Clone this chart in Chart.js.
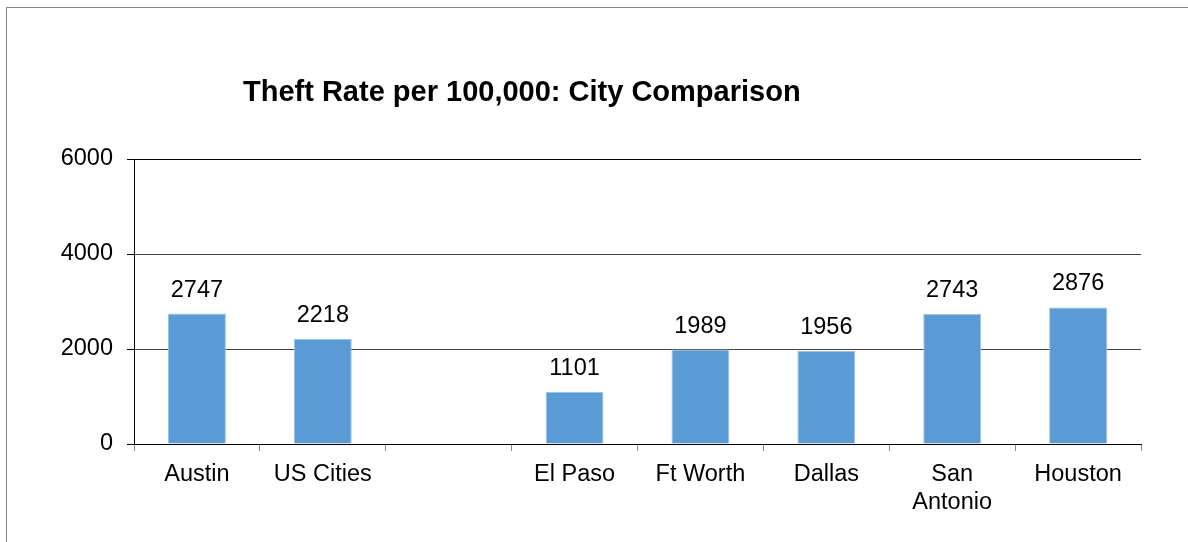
<!DOCTYPE html>
<html>
<head>
<meta charset="utf-8">
<script src="https://cdn.jsdelivr.net/npm/chart.js@4"></script>
<style>
    html, body { margin: 0; padding: 0; background: #fff; overflow: hidden; }
    #frame {
        position: absolute; left: 6px; top: 7px; width: 1300px; height: 600px;
        border-left: 1px solid #868686; border-top: 1px solid #868686;
    }
    #myChart { position: absolute; left: 0; top: 0; }
</style>
</head>
<body>
<div id="frame"></div>
<canvas id="myChart" width="1188" height="542"></canvas>
<script>
const chartTitle = 'Theft Rate per 100,000: City Comparison';
const cities = ['Austin', 'US Cities', '', 'El Paso', 'Ft Worth', 'Dallas', ['San', 'Antonio'], 'Houston'];
const theftRates = [2747, 2218, null, 1101, 1989, 1956, 2743, 2876];
const yTicks = [0, 2000, 4000, 6000];

const fontName = "'Liberation Sans', Arial, sans-serif";

// titre + etiquettes de valeur au-dessus des barres
const labelsPlugin = {
    id: 'labelsPlugin',
    afterDatasetsDraw(chart) {
        const ctx = chart.ctx;
        ctx.save();
        ctx.fillStyle = '#000';
        ctx.font = 'bold 29px ' + fontName;
        ctx.textAlign = 'left';
        ctx.textBaseline = 'alphabetic';
        ctx.fillText(chartTitle, 243, 101);

        ctx.font = '23.5px ' + fontName;
        ctx.textAlign = 'center';
        const meta = chart.getDatasetMeta(0);
        meta.data.forEach((bar, i) => {
            const v = theftRates[i];
            if (v === null) return;
            ctx.fillText(String(v), bar.x, bar.y - 17);
        });
        ctx.restore();
    }
};

const canvas = document.getElementById('myChart').getContext('2d');
const myChart = new Chart(canvas, {
    type: 'bar',
    data: {
        labels: cities,
        datasets: [
            {
                data: theftRates,
                backgroundColor: '#5b9bd5',
                borderColor: '#9cc2e5',
                borderWidth: 1,
                barPercentage: 0.46,
                categoryPercentage: 1
            }
        ]
    },
    options: {
        responsive: false,
        animation: false,
        layout: { padding: { left: 0, right: 47, top: 159, bottom: 0 } },
        plugins: {
            legend: { display: false },
            tooltip: { enabled: false }
        },
        scales: {
            x: {
                afterFit(scale) { scale.height = 98; },
                border: { display: true, color: '#000', width: 1 },
                grid: {
                    offset: true,
                    color: (c) => c.index === cities.length ? '#888' : 'rgba(0,0,0,0)',
                    tickColor: '#888',
                    tickLength: 7
                },
                ticks: {
                    color: '#000',
                    font: { family: fontName, size: 23.5, lineHeight: 1.18 },
                    padding: 10,
                    maxRotation: 0
                }
            },
            y: {
                min: 0,
                max: 6000,
                afterFit(scale) { scale.width = 134; },
                afterBuildTicks(scale) { scale.ticks = yTicks.map(v => ({ value: v })); },
                border: { display: true, color: '#000', width: 1 },
                grid: {
                    color: (c) => c.tick && c.tick.value === 6000 ? '#000' : '#444',
                    tickColor: '#000',
                    tickLength: 7
                },
                ticks: {
                    color: '#000',
                    font: { family: fontName, size: 23.5 },
                    padding: 14,
                    callback: (v) => String(v)
                }
            }
        }
    },
    plugins: [labelsPlugin]
});
</script>
</body>
</html>
